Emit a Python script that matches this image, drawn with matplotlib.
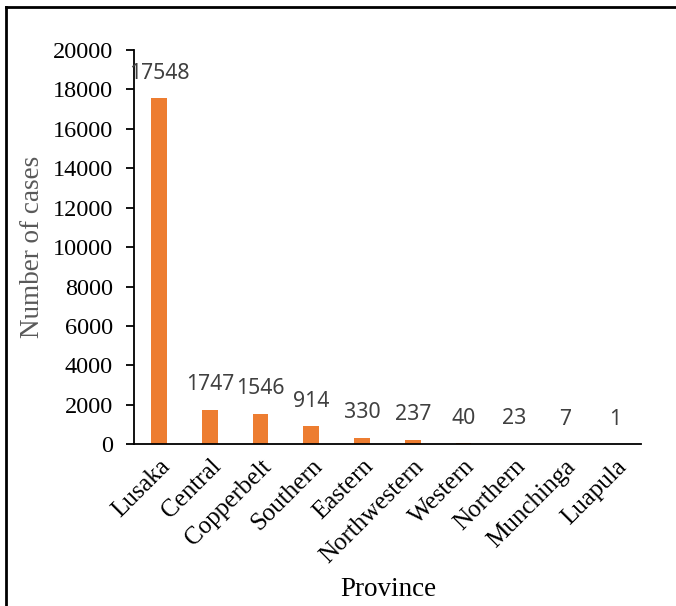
import numpy as np
import matplotlib.pyplot as plt
from matplotlib.lines import Line2D

# 数据
provinces = ['Lusaka', 'Central', 'Copperbelt', 'Southern', 'Eastern',
             'Northwestern', 'Western', 'Northern', 'Munchinga', 'Luapula']
cases = [17548, 1747, 1546, 914, 330, 237, 40, 23, 7, 1]
yticks = [0, 2000, 4000, 6000, 8000, 10000, 12000, 14000, 16000, 18000, 20000]

fig = plt.figure(figsize=(6.76, 6.06), dpi=100)
ax = fig.add_axes([0.198, 0.267, 0.75, 0.6505])

x = np.arange(len(provinces))
ax.bar(x, cases, width=0.31, color='#ED7D31')

for xi, v in zip(x, cases):
    ax.annotate(str(v), xy=(xi, v), xytext=(0, 18), textcoords='offset points',
                ha='center', va='center', fontsize=15.3, color='#404040',
                family='Noto Sans')

ax.set_xlim(-0.5, 9.5)
ax.set_ylim(0, 20000)
ax.set_yticks(yticks)
ax.set_yticklabels([str(t) for t in yticks], family='Liberation Serif', fontsize=17.5)
ax.set_xticks(x)
ax.set_xticklabels(provinces, rotation=45, ha='right', rotation_mode='anchor',
                   family='Liberation Serif', fontsize=18)
ax.tick_params(axis='x', length=0, pad=8)
ax.tick_params(axis='y', length=6, width=1.3, direction='out', pad=9)

for s in ['top', 'right']:
    ax.spines[s].set_visible(False)
ax.spines['left'].set_linewidth(1.3)
ax.spines['bottom'].set_linewidth(1.3)

ax.set_ylabel('Number of cases', family='Liberation Serif', fontsize=19.5,
              color='#595959')
ax.yaxis.set_label_coords(-0.176, 0.5)
fig.text(0.574, 0.027, 'Province', family='Liberation Serif', fontsize=19.5,
         ha='center', va='center')

# 外框（只有上边和左边）
fig.add_artist(Line2D([0.0085, 1.0], [0.989, 0.989], color='black', lw=2,
                      transform=fig.transFigure))
fig.add_artist(Line2D([0.0085, 0.0085], [0.0, 0.989], color='black', lw=2,
                      transform=fig.transFigure))

fig.savefig('out.png', dpi=100)
